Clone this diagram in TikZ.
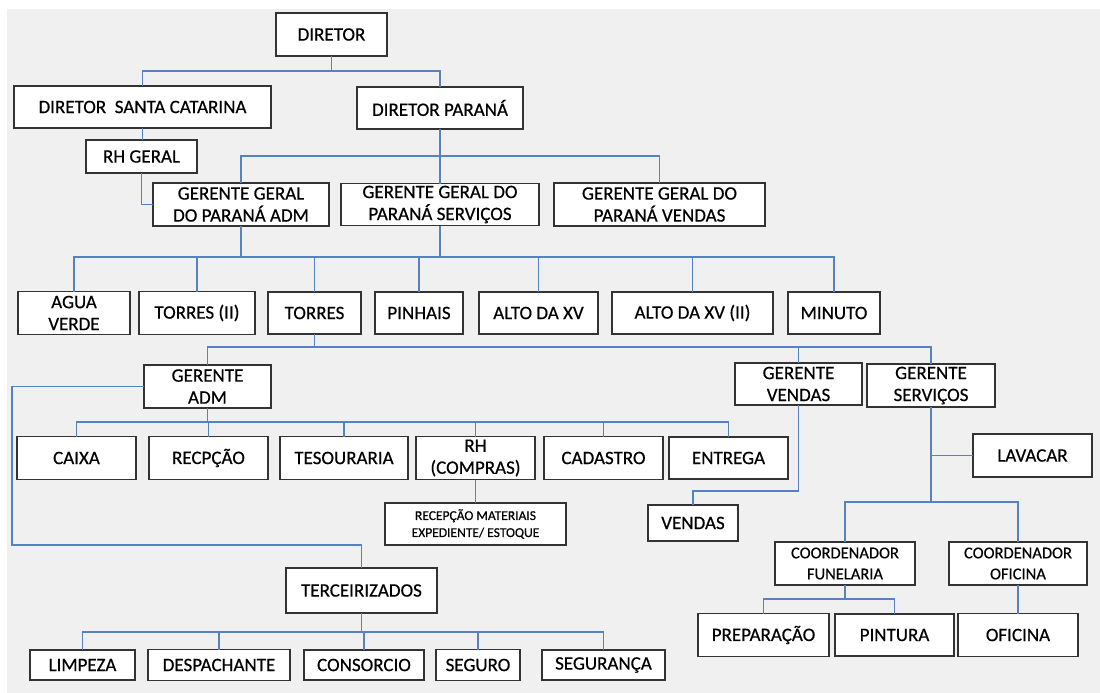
\documentclass[tikz,border=0pt]{standalone}
\usepackage{fontspec}
\setmainfont{Carlito}[FakeBold=0.5]
\usepackage{tikz}
\usetikzlibrary{positioning}
\definecolor{linkblue}{RGB}{86,131,192}
\definecolor{bggray}{RGB}{240,240,240}
\tikzstyle{box} = [draw=black!80, fill=white, line width=1.2pt, inner sep=0pt, outer sep=0pt, align=center, text=black, font=\fontsize{19}{22}\selectfont]
\tikzstyle{small} = [font=\fontsize{16.5}{21}\selectfont]
\tikzstyle{tiny} = [font=\fontsize{13.5}{17}\selectfont]
\tikzstyle{link} = [draw=linkblue, line width=1.5pt]
\tikzset{wh/.style 2 args={minimum width=#1pt, minimum height=#2pt}}

\begin{document}
\begin{tikzpicture}[x=1pt,y=-1pt]
\useasboundingbox (0,0) rectangle (1100,693);
\fill[bggray] (7,9) rectangle (1100,693);

% top
\node[box, wh={111}{43}] (dir) at (331.5,34.5) {DIRETOR};
\node[box, wh={257}{42}] (dsc) at (142.5,107) {DIRETOR\ \ SANTA CATARINA};
\node[box, wh={166}{42}] (dp) at (440,108) {DIRETOR PARANÁ};
\node[box, wh={111}{33}] (rh) at (141.5,156.5) {RH GERAL};

% gerentes gerais
\node[box, wh={176}{43}] (ggadm) at (241,204.5) {GERENTE GERAL\\DO PARANÁ ADM};
\node[box, wh={198}{42}, right=12pt of ggadm] (ggserv) {GERENTE GERAL DO\\PARANÁ SERVIÇOS};
\node[box, wh={211}{43}, right=15pt of ggserv] (ggvend) {GERENTE GERAL DO\\PARANÁ VENDAS};

% lojas
\node[box, wh={112}{43}] (agua) at (74,313) {AGUA\\VERDE};
\node[box, wh={116}{43}, right=9pt of agua] (torres2) {TORRES (II)};
\node[box, wh={93}{42}, right=13pt of torres2] (torres) {TORRES};
\node[box, wh={88}{42}, right=14pt of torres] (pinhais) {PINHAIS};
\node[box, wh={119}{42}, right=16pt of pinhais] (altoxv) {ALTO DA XV};
\node[box, wh={161}{42}, right=14pt of altoxv] (altoxv2) {ALTO DA XV (II)};
\node[box, wh={92}{42}, right=15pt of altoxv2] (minuto) {MINUTO};

% gerentes da loja
\node[box, wh={127}{43}] (gadm) at (207.5,386.5) {GERENTE\\ADM};
\node[box, wh={127}{42}] (gvend) at (798.5,384) {GERENTE\\VENDAS};
\node[box, wh={128}{43}] (gserv) at (931,385.5) {GERENTE\\SERVIÇOS};

% setores adm
\node[box, wh={119}{43}] (caixa) at (76.5,458) {CAIXA};
\node[box, wh={119}{43}, right=13pt of caixa] (recp) {RECPÇÃO};
\node[box, wh={128}{43}, right=12pt of recp] (tes) {TESOURARIA};
\node[box, wh={119}{43}, right=8pt of tes] (rhc) {RH\\(COMPRAS)};
\node[box, wh={119}{43}, right=9pt of rhc] (cad) {CADASTRO};
\node[box, wh={119}{42}, right=6pt of cad] (entrega) {ENTREGA};
\node[box, tiny, wh={181}{42}] (recmat) at (475.5,524) {RECEPÇÃO MATERIAIS\\EXPEDIENTE/ ESTOQUE};

% vendas e servicos
\node[box, wh={90}{36}] (vendas) at (693,523) {VENDAS};
\node[box, wh={119}{43}] (lavacar) at (1032.5,455.5) {LAVACAR};
\node[box, small, wh={140}{43}] (cfun) at (845,563.5) {COORDENADOR\\FUNELARIA};
\node[box, small, wh={138}{43}] (cofi) at (1018,563.5) {COORDENADOR\\OFICINA};
\node[box, wh={131}{43}] (prep) at (763.5,635) {PREPARAÇÃO};
\node[box, wh={119}{42}, right=6pt of prep] (pint) {PINTURA};
\node[box, wh={120}{43}, right=4pt of pint] (ofi) {OFICINA};

% terceirizados
\node[box, wh={151}{45}] (terc) at (361.5,590.5) {TERCEIRIZADOS};
\node[box, wh={105}{30}] (limpeza) at (82.5,665) {LIMPEZA};
\node[box, wh={142}{31}, right=13pt of limpeza] (desp) {DESPACHANTE};
\node[box, wh={120}{30}, right=14pt of desp] (cons) {CONSORCIO};
\node[box, wh={84}{31}, right=12pt of cons] (seguro) {SEGURO};
\node[box, wh={123}{30}, right=22pt of seguro] (segca) {SEGURANÇA};

\coordinate (busdp) at (440,156);
\coordinate (busgg) at (440,257);
\coordinate (bustor) at (314.5,347);
\coordinate (busadm) at (207.5,422);
\coordinate (busgs) at (931,502);
\coordinate (buster) at (361.5,632);
\coordinate (lft) at (12,545);

\draw[link] (dir.south) -- ++(0,15) -| (dsc.north);
\draw[link] (dir.south) -- ++(0,15) -| (dp.north);
\draw[link] (dsc.south) -- (dsc.south |- rh.north);
\draw[link] (rh.south) |- (ggadm.west);
\draw[link] (dp.south) -- (ggserv.north);
\draw[link] (ggadm.north) |- (busdp) -| (ggvend.north);

\draw[link] (ggadm.south) |- (busgg);
\draw[link] (ggserv.south) -- (busgg);
\foreach \n in {agua,torres2,torres,pinhais,altoxv,altoxv2,minuto}
  \draw[link] (busgg) -| (\n.north);

\draw[link] (torres.south) -- (bustor);
\foreach \n in {gadm,gvend,gserv}
  \draw[link] (bustor) -| (\n.north);

\draw[link] (gadm.south) -- (busadm);
\foreach \n in {caixa,recp,tes,rhc,cad,entrega}
  \draw[link] (busadm) -| (\n.north);
\draw[link] (rhc.south) -- (recmat.north);

\draw[link] (gadm.west) -| (lft) -| (terc.north);
\draw[link] (terc.south) -- (buster);
\foreach \n in {limpeza,desp,cons,seguro,segca}
  \draw[link] (buster) -| (\n.north);

\draw[link] (gvend.south) -- ++(0,86) -| (vendas.north);
\draw[link] (gserv.south) -- (busgs);
\draw[link] (gserv.south |- lavacar.west) -- (lavacar.west);
\foreach \n in {cfun,cofi}
  \draw[link] (busgs) -| (\n.north);
\draw[link] (cfun.south) -- ++(0,14) -| (prep.north);
\draw[link] (cfun.south) -- ++(0,14) -| (pint.north);
\draw[link] (cofi.south) -- (ofi.north);
\end{tikzpicture}
\end{document}
